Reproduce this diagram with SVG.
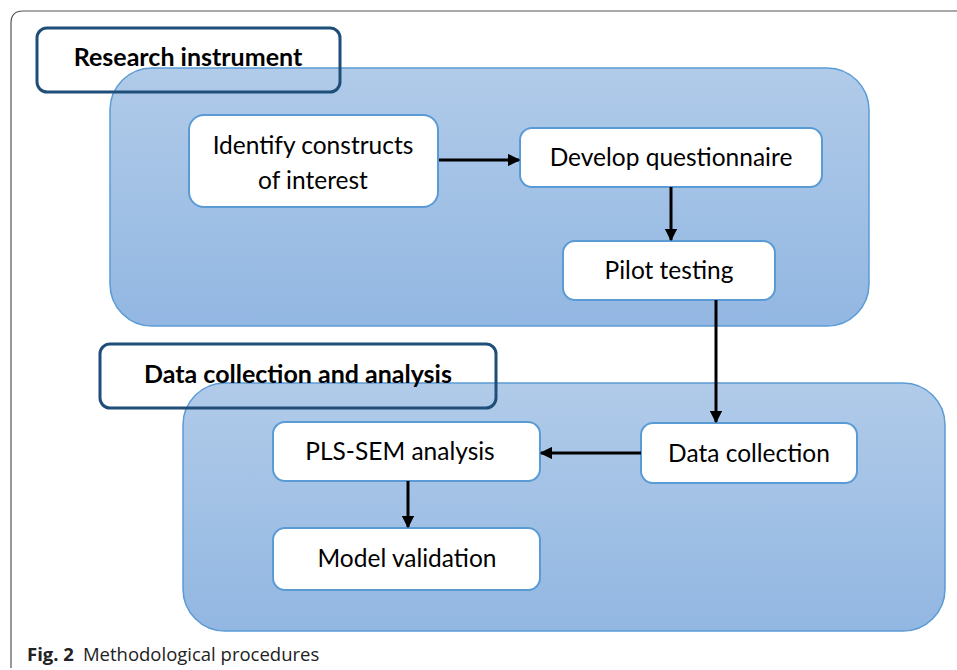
<svg xmlns="http://www.w3.org/2000/svg" width="957" height="670" viewBox="0 0 957 670">
<defs>
<linearGradient id="g" x1="0" y1="0" x2="0" y2="1">
<stop offset="0" stop-color="#b1cbe9"/>
<stop offset="1" stop-color="#92b7e2"/>
</linearGradient>
<marker id="ah" viewBox="0 0 10 10" refX="9" refY="5" markerWidth="4.2" markerHeight="4.2" markerUnits="strokeWidth" orient="auto">
<path d="M0,0 L10,5 L0,10 Z" fill="#000"/>
</marker>
<style>
.frame{fill:none;stroke:#555;stroke-width:1.2}
.cont{fill:url(#g);stroke:#5b9bd5;stroke-width:1.5}
.lbl{fill:#fff;stroke:none}
.lbls{fill:none;stroke:#1f4e79;stroke-width:3}
.node{fill:#fff;stroke:#5b9bd5;stroke-width:2}
.t{font-family:Lato,"Liberation Sans",sans-serif;font-size:24.5px;fill:#000;text-anchor:middle}
.tb{font-family:Lato,"Liberation Sans",sans-serif;font-size:25px;font-weight:bold;fill:#000;text-anchor:middle}
.con{stroke:#000;stroke-width:3;fill:none;marker-end:url(#ah)}
.cap{font-family:"Open Sans","Noto Sans",sans-serif;font-size:18.5px;fill:#222}
</style>
</defs>
<rect width="957" height="670" fill="#fff"/>
<path class="frame" d="M11,668 L11,23 Q11,11 23,11 L957,11"/>

<g id="group-research">
<rect class="lbl" x="37" y="28" width="303" height="64" rx="10"/>
<rect class="cont" x="110" y="68" width="759" height="258" rx="42"/>
<rect class="lbls" x="37" y="28" width="303" height="64" rx="10"/>
<text class="tb" x="188" y="66">Research instrument</text>
</g>

<g id="group-data">
<rect class="lbl" x="100" y="344" width="396" height="64" rx="10"/>
<rect class="cont" x="183" y="383" width="762" height="248" rx="42"/>
<rect class="lbls" x="100" y="344" width="396" height="64" rx="10"/>
<text class="tb" x="298" y="383">Data collection and analysis</text>
</g>

<g id="n-identify">
<rect class="node" x="189" y="115" width="249" height="92" rx="15"/>
<text class="t" x="313" y="154">Identify constructs</text>
<text class="t" x="313" y="189">of interest</text>
</g>
<g id="n-develop">
<rect class="node" x="520" y="128" width="302" height="59" rx="12"/>
<text class="t" x="671" y="166">Develop questionnaire</text>
</g>
<g id="n-pilot">
<rect class="node" x="563" y="241" width="212" height="59" rx="12"/>
<text class="t" x="669" y="279">Pilot testing</text>
</g>
<g id="n-datacollection">
<rect class="node" x="641" y="423" width="216" height="60" rx="12"/>
<text class="t" x="749" y="462">Data collection</text>
</g>
<g id="n-pls">
<rect class="node" x="273" y="422" width="267" height="59" rx="12"/>
<text class="t" x="400" y="460">PLS-SEM analysis</text>
</g>
<g id="n-model">
<rect class="node" x="273" y="528" width="267" height="62" rx="12"/>
<text class="t" x="407" y="567">Model validation</text>
</g>

<g id="connectors">
<line class="con" x1="439" y1="160" x2="519" y2="160"/>
<line class="con" x1="671" y1="187" x2="671" y2="240"/>
<line class="con" x1="716" y1="300" x2="716" y2="422"/>
<line class="con" x1="641" y1="453" x2="541" y2="453"/>
<line class="con" x1="408" y1="481" x2="408" y2="527"/>
</g>

<text class="cap" x="27" y="661"><tspan font-weight="bold">Fig. 2</tspan><tspan dx="9">Methodological procedures</tspan></text>
</svg>
